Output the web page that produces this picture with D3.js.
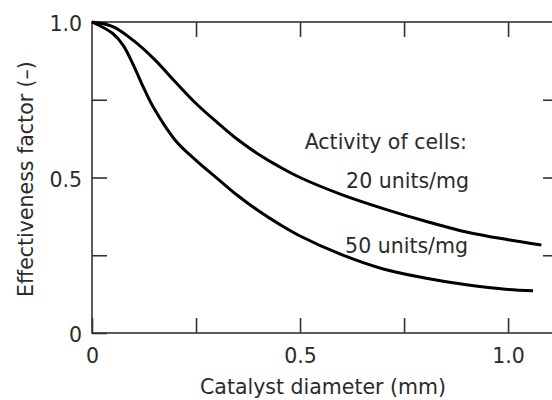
<!DOCTYPE html>
<html>
<head>
<meta charset="utf-8">
<script src="https://cdn.jsdelivr.net/npm/d3@7"></script>
<style>
  html, body { margin: 0; padding: 0; background: #fff; }
  svg { display: block; }
  text { font-family: "DejaVu Sans", sans-serif; fill: #2b2b2b; }
</style>
</head>
<body>
<svg id="chart" width="552" height="400"></svg>
<script>
// ---- data ----
const diameterMm = [0, 0.05, 0.1, 0.15, 0.2, 0.25, 0.3, 0.35, 0.4, 0.45, 0.5, 0.6, 0.7, 0.8, 0.9, 1.0, 1.08];
const eff20 = [1.0, 0.985, 0.94, 0.88, 0.808, 0.738, 0.678, 0.622, 0.575, 0.535, 0.50, 0.445, 0.40, 0.36, 0.325, 0.30, 0.283];
const diameterMm50 = [0, 0.05, 0.075, 0.1, 0.125, 0.15, 0.2, 0.25, 0.3, 0.35, 0.4, 0.45, 0.5, 0.6, 0.7, 0.8, 0.9, 1.0, 1.06];
const eff50 = [1.0, 0.963, 0.925, 0.86, 0.786, 0.72, 0.62, 0.555, 0.498, 0.442, 0.393, 0.35, 0.312, 0.252, 0.206, 0.177, 0.155, 0.14, 0.136];
const xTicks = [0, 0.25, 0.5, 0.75, 1.0];
const xTickLabels = ["0", "", "0.5", "", "1.0"];
const yTicks = [0, 0.25, 0.5, 0.75, 1.0];
const yTickLabels = ["0", "", "0.5", "", "1.0"];
const seriesLabels = ["20 units/mg", "50 units/mg"];
const legendTitle = "Activity of cells:";
const xTitle = "Catalyst diameter (mm)";
const yTitle = "Effectiveness factor (\u2013)";

// ---- layout ----
const svg = d3.select("#chart");
const pL = 92, pR = 558, pT = 22, pB = 333;
const x = d3.scaleLinear().domain([0, 1.12]).range([pL, pR]);
const y = d3.scaleLinear().domain([0, 1.0]).range([pB, pT]);
const tickLen = 15;
const axisColor = "#333";
const fs = "20.5px";

// frame
svg.append("rect")
  .attr("x", pL).attr("y", pT)
  .attr("width", pR - pL).attr("height", pB - pT)
  .attr("fill", "none").attr("stroke", axisColor).attr("stroke-width", 1.6);

function styleAxis(g) {
  g.select(".domain").remove();
  g.selectAll(".tick line").attr("stroke", axisColor).attr("stroke-width", 1.6);
  g.selectAll(".tick text").style("font-size", fs).style("font-family", "'DejaVu Sans', sans-serif").attr("fill", "#2b2b2b");
}

// bottom axis
svg.append("g").attr("transform", `translate(0,${pB})`)
  .call(d3.axisBottom(x).tickValues(xTicks).tickSize(-tickLen).tickPadding(30)
    .tickFormat((d, i) => xTickLabels[i]))
  .call(styleAxis)
  .call(g => g.selectAll(".tick text").attr("dy", "0"));
// top axis
svg.append("g").attr("transform", `translate(0,${pT})`)
  .call(d3.axisTop(x).tickValues(xTicks.slice(1)).tickSize(-tickLen).tickFormat(""))
  .call(styleAxis);
// left axis
svg.append("g").attr("transform", `translate(${pL},0)`)
  .call(d3.axisLeft(y).tickValues(yTicks).tickSize(-tickLen).tickPadding(10)
    .tickFormat((d, i) => yTickLabels[i]))
  .call(styleAxis)
  .call(g => g.selectAll(".tick text").attr("dy", "0.42em"));
// right axis
svg.append("g").attr("transform", `translate(${pR},0)`)
  .call(d3.axisRight(y).tickValues(yTicks.slice(1, 4)).tickSize(-tickLen).tickFormat(""))
  .call(styleAxis);

// curves
const line = d3.line().x(d => x(d[0])).y(d => y(d[1])).curve(d3.curveCatmullRom.alpha(0.5));
svg.append("path")
  .datum(diameterMm.map((d, i) => [d, eff20[i]]))
  .attr("d", line).attr("fill", "none").attr("stroke", "#000").attr("stroke-width", 3);
svg.append("path")
  .datum(diameterMm50.map((d, i) => [d, eff50[i]]))
  .attr("d", line).attr("fill", "none").attr("stroke", "#000").attr("stroke-width", 3);

// annotations
svg.append("text").attr("x", 467).attr("y", 149).attr("text-anchor", "end")
  .style("font-size", fs).text(legendTitle);
svg.append("text").attr("x", 469).attr("y", 188).attr("text-anchor", "end")
  .style("font-size", fs).text(seriesLabels[0]);
svg.append("text").attr("x", 468).attr("y", 253).attr("text-anchor", "end")
  .style("font-size", fs).text(seriesLabels[1]);

// axis titles
svg.append("text").attr("x", 323).attr("y", 394).attr("text-anchor", "middle")
  .style("font-size", fs).text(xTitle);
svg.append("text")
  .attr("transform", `translate(33,179) rotate(-90)`)
  .attr("text-anchor", "middle")
  .style("font-size", fs).text(yTitle);
</script>
</body>
</html>
